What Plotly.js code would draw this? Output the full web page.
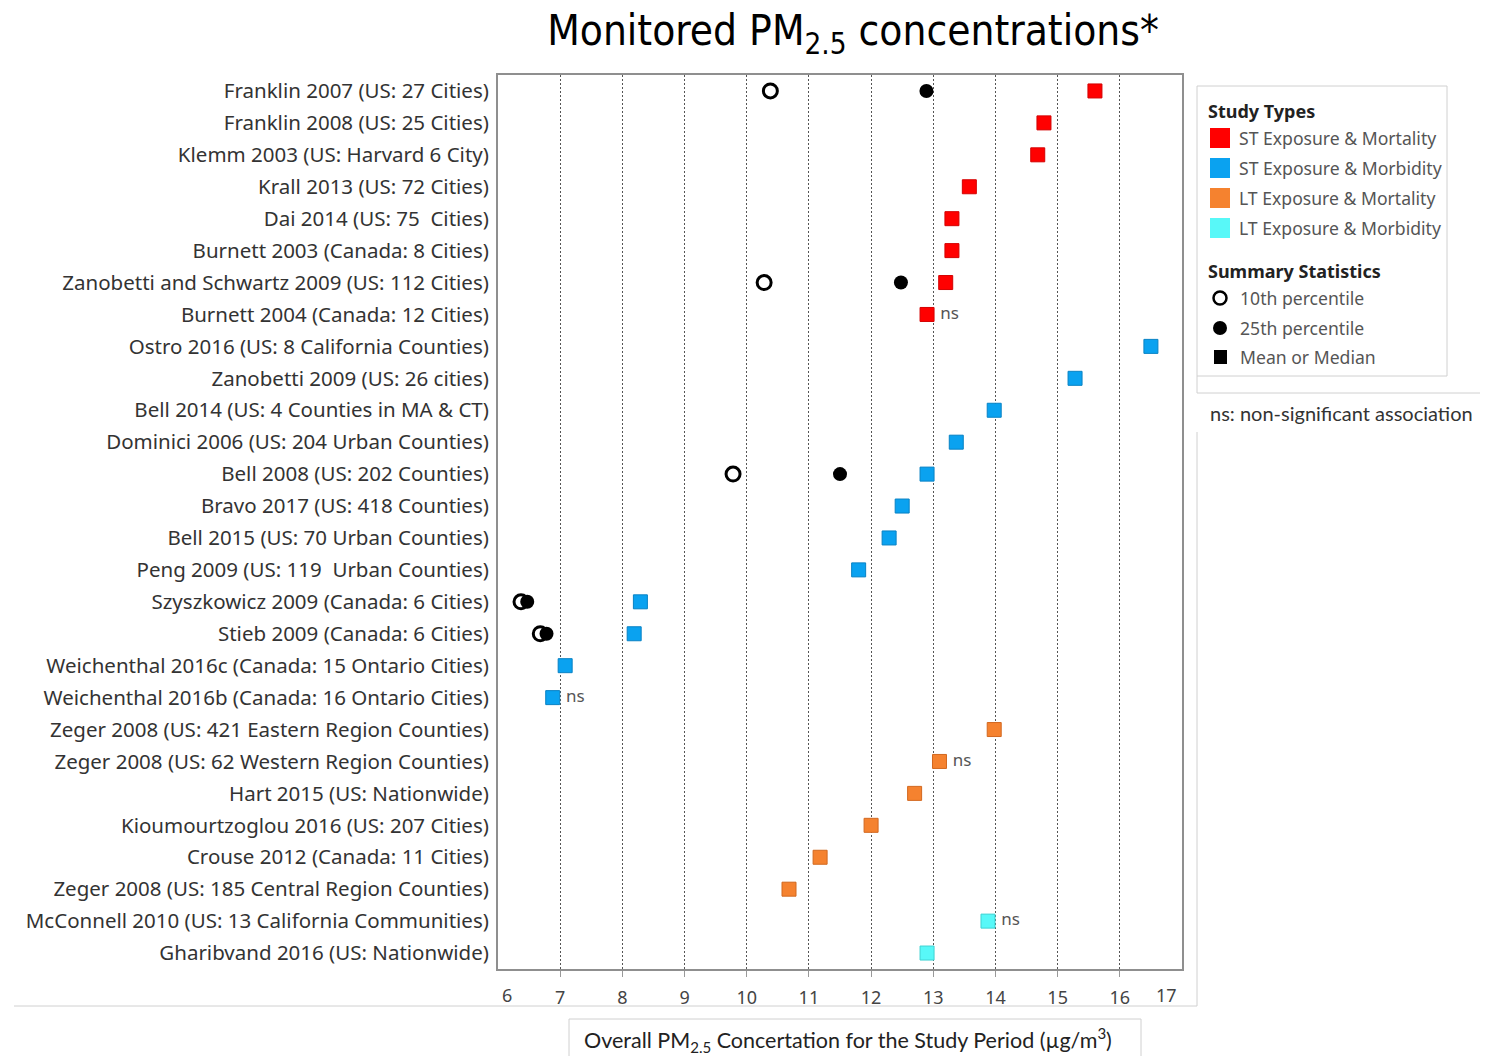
<!DOCTYPE html>
<html>
<head>
<meta charset="utf-8">
<script src="https://cdn.plot.ly/plotly-3.0.1.min.js"></script>
<style>html,body{margin:0;padding:0;background:#fff;}#chart{width:1489px;height:1056px;}</style>
</head>
<body>
<div id="chart"></div>
<script>
// ---------- data ----------
const studies = [
  "Franklin 2007 (US: 27 Cities)",
  "Franklin 2008 (US: 25 Cities)",
  "Klemm 2003 (US: Harvard 6 City)",
  "Krall 2013 (US: 72 Cities)",
  "Dai 2014 (US: 75  Cities)",
  "Burnett 2003 (Canada: 8 Cities)",
  "Zanobetti and Schwartz 2009 (US: 112 Cities)",
  "Burnett 2004 (Canada: 12 Cities)",
  "Ostro 2016 (US: 8 California Counties)",
  "Zanobetti 2009 (US: 26 cities)",
  "Bell 2014 (US: 4 Counties in MA & CT)",
  "Dominici 2006 (US: 204 Urban Counties)",
  "Bell 2008 (US: 202 Counties)",
  "Bravo 2017 (US: 418 Counties)",
  "Bell 2015 (US: 70 Urban Counties)",
  "Peng 2009 (US: 119  Urban Counties)",
  "Szyszkowicz 2009 (Canada: 6 Cities)",
  "Stieb 2009 (Canada: 6 Cities)",
  "Weichenthal 2016c (Canada: 15 Ontario Cities)",
  "Weichenthal 2016b (Canada: 16 Ontario Cities)",
  "Zeger 2008 (US: 421 Eastern Region Counties)",
  "Zeger 2008 (US: 62 Western Region Counties)",
  "Hart 2015 (US: Nationwide)",
  "Kioumourtzoglou 2016 (US: 207 Cities)",
  "Crouse 2012 (Canada: 11 Cities)",
  "Zeger 2008 (US: 185 Central Region Counties)",
  "McConnell 2010 (US: 13 California Communities)",
  "Gharibvand 2016 (US: Nationwide)"
];
const studyTypes = ["ST Exposure & Mortality", "ST Exposure & Morbidity", "LT Exposure & Mortality", "LT Exposure & Morbidity"];
const studyType = [0,0,0,0,0,0,0,0, 1,1,1,1,1,1,1,1,1,1,1,1, 2,2,2,2,2,2, 3,3];
const meanMedian = [15.6, 14.78, 14.68, 13.58, 13.3, 13.3, 13.2, 12.9,
                    16.5, 15.28, 13.98, 13.37, 12.9, 12.5, 12.29, 11.8, 8.29, 8.19, 7.08, 6.88,
                    13.98, 13.1, 12.7, 12.0, 11.18, 10.68,
                    13.88, 12.9];
const pct10 = [10.38, null, null, null, null, null, 10.28, null,
               null, null, null, null, 9.78, null, null, null, 6.37, 6.68, null, null,
               null, null, null, null, null, null, null, null];
const pct25 = [12.89, null, null, null, null, null, 12.48, null,
               null, null, null, null, 11.5, null, null, null, 6.47, 6.78, null, null,
               null, null, null, null, null, null, null, null];
const nonSig = [0,0,0,0,0,0,0,1, 0,0,0,0,0,0,0,0,0,0,0,1, 0,1,0,0,0,0, 1,0];
const nsLabel = "ns";
const xRange = [6, 17];
const xTickLabels = [7,8,9,10,11,12,13,14,15,16];
const summaryLabels = ["10th percentile", "25th percentile", "Mean or Median"];

// ---------- styles ----------
const typeColors = ["#ff0000", "#0aa2f0", "#f5822f", "#58f8f8"];
const typeBorders = ["#d40000", "#0882c4", "#d2681f", "#3ed2d2"];
const labelFont = "Noto Sans, Open Sans, sans-serif";
const L = 498, R = 1182, T = 75, B = 969;
const px = x => (x - L) / (R - L);
const py = y => (B - y) / (B - T);

const traces = [];
traces.push({
  type: "scatter", mode: "markers", x: pct10, y: studies, name: summaryLabels[0],
  marker: {symbol: "circle-open", size: 14, color: "#000", line: {width: 3, color: "#000"}},
  hoverinfo: "x+y", showlegend: false
});
traces.push({
  type: "scatter", mode: "markers", x: pct25, y: studies, name: summaryLabels[1],
  marker: {symbol: "circle", size: 14, color: "#000"},
  hoverinfo: "x+y", showlegend: false
});
studyTypes.forEach((t, k) => {
  const xs = [], ys = [];
  studies.forEach((s, i) => {
    if (studyType[i] === k) { xs.push(meanMedian[i]); ys.push(s); }
  });
  traces.push({
    type: "scatter", mode: "markers", x: xs, y: ys, name: t,
    marker: {symbol: "square", size: 14, color: typeColors[k], line: {width: 1, color: typeBorders[k]}},
    hoverinfo: "x+y", showlegend: false
  });
});
// "ns" labels next to non-significant results
const nsX = [], nsY = [], nsT = [];
studies.forEach((s, i) => { if (nonSig[i]) { nsX.push(meanMedian[i]); nsY.push(s); nsT.push(nsLabel); } });
traces.push({
  type: "scatter", mode: "text", x: nsX, y: nsY, text: nsT, texttemplate: "   %{text}",
  textposition: "middle right", textfont: {family: labelFont, size: 17, color: "#555"},
  hoverinfo: "skip", showlegend: false
});

// ---------- legend & decorations ----------
const shapes = [];
const annotations = [];
const lg = "#d0d0d0";
function line(x0, y0, x1, y1, c, w) {
  shapes.push({type: "line", xref: "paper", yref: "paper", x0: px(x0), y0: py(y0), x1: px(x1), y1: py(y1), line: {color: c || lg, width: w || 1}});
}
function rect(x0, y0, x1, y1, fill, lc, lw) {
  shapes.push({type: "rect", xref: "paper", yref: "paper", x0: px(x0), y0: py(y0), x1: px(x1), y1: py(y1),
    fillcolor: fill || "rgba(0,0,0,0)", line: {color: lc || lg, width: lw === undefined ? 1 : lw}});
}
function circ(cx, cy, r, fill, lc, lw) {
  shapes.push({type: "circle", xref: "paper", yref: "paper", x0: px(cx - r), y0: py(cy + r), x1: px(cx + r), y1: py(cy - r),
    fillcolor: fill, line: {color: lc, width: lw}});
}
function text(t, x, y, size, color, anchor, fam, bold) {
  annotations.push({xref: "paper", yref: "paper", x: px(x), y: py(y), text: bold ? "<b>" + t + "</b>" : t,
    showarrow: false, xanchor: anchor || "left", yanchor: "middle",
    font: {family: fam || labelFont, size: size, color: color}});
}

// panel frames
rect(1197, 86, 1447, 376);
line(1197, 376, 1197, 393);
line(1197, 393, 1480, 393);
line(1197, 432, 1197, 1006);
line(14, 1006, 1197, 1006);
rect(569, 1019, 1141, 1062);

// legend: study types
text("Study Types", 1206, 111, 18, "#222", "left", labelFont, true);
const legY = [138, 168, 198, 228];
studyTypes.forEach((t, k) => {
  rect(1210, legY[k] - 10, 1230, legY[k] + 10, typeColors[k], typeColors[k], 0);
  text(t.replace("&", "&amp;"), 1237, legY[k], 17.6, "#555");
});
// legend: summary statistics
text("Summary Statistics", 1206, 271, 18, "#222", "left", labelFont, true);
circ(1220, 298, 6.5, "#fff", "#000", 2.5);
circ(1220, 328, 7, "#000", "#000", 0);
rect(1214, 350, 1227, 364, "#000", "#000", 0);
text(summaryLabels[0], 1238, 298, 17.6, "#555");
text(summaryLabels[1], 1238, 328, 17.6, "#555");
text(summaryLabels[2], 1238, 357, 17.6, "#555");

text("ns: non-significant association", 1341, 413, 20, "#333", "center", "Lato, sans-serif");
text("Overall PM<sub>2.5</sub> Concertation for the Study Period (µg/m<sup>3</sup>)", 848, 1040, 21.5, "#222", "center", "Lato, sans-serif");

// edge tick labels (drawn inset as in the original)
annotations.push({xref: "x", yref: "paper", x: xRange[0], y: py(995), text: String(xRange[0]), showarrow: false,
  xanchor: "center", yanchor: "middle", xshift: 9, font: {family: labelFont, size: 18, color: "#444"}});
annotations.push({xref: "x", yref: "paper", x: xRange[1], y: py(995), text: String(xRange[1]), showarrow: false,
  xanchor: "center", yanchor: "middle", xshift: -16, font: {family: labelFont, size: 18, color: "#444"}});

const layout = {
  width: 1489, height: 1056,
  paper_bgcolor: "#fff", plot_bgcolor: "#fff",
  margin: {l: L, r: 1489 - R, t: T, b: 1056 - B, pad: 0},
  title: {text: "Monitored PM<sub>2.5</sub> concentrations*", xref: "container", yref: "container",
    x: 853 / 1489, xanchor: "center", y: 1 - 30 / 1056, yanchor: "middle",
    font: {family: "Liberation Sans Narrow, DejaVu Sans Condensed, Arial Narrow, sans-serif", size: 42, color: "#000"}},
  xaxis: {
    range: xRange,
    tickmode: "array", tickvals: xTickLabels, ticktext: xTickLabels.map(String),
    showgrid: true, gridcolor: "#555", gridwidth: 1, griddash: "2px,2px",
    zeroline: false, showline: true, mirror: true, linecolor: "#8f8f8f", linewidth: 2,
    ticks: "outside", ticklen: 6, tickcolor: "#999", tickwidth: 1,
    tickfont: {family: labelFont, size: 18, color: "#444"}, ticklabelstandoff: 5
  },
  yaxis: {
    type: "category", categoryorder: "array", categoryarray: studies,
    range: [studies.length - 0.5, -0.5],
    showgrid: false, zeroline: false, showline: true, mirror: true, linecolor: "#8f8f8f", linewidth: 2,
    ticks: "", ticklabelstandoff: 3,
    tickfont: {family: labelFont, size: 20.5, color: "#333"}
  },
  shapes: shapes, annotations: annotations, showlegend: false
};

Plotly.newPlot("chart", traces, layout, {displayModeBar: false, staticPlot: true});
</script>
</body>
</html>
